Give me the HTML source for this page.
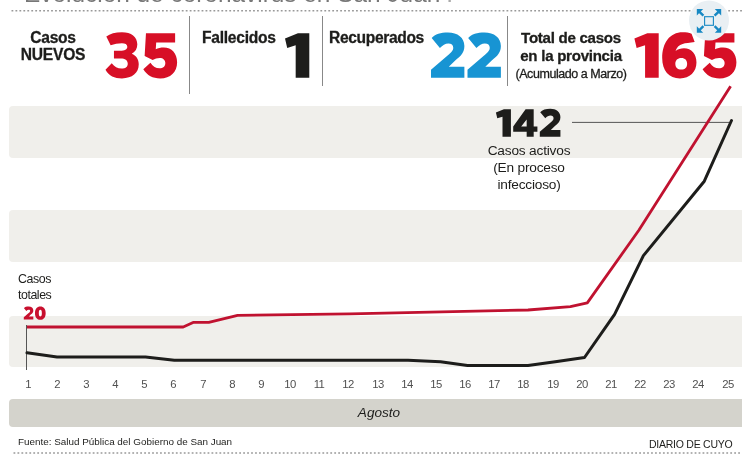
<!DOCTYPE html>
<html><head><meta charset="utf-8">
<style>
html,body{margin:0;padding:0;background:#fff;}
body{width:742px;height:455px;position:relative;overflow:hidden;font-family:"Liberation Sans",sans-serif;color:#1d1d1b;}
.abs{position:absolute;white-space:nowrap;}
.abs,.lbl,.xl{will-change:transform;}
.band{position:absolute;left:9px;width:740px;height:51.8px;background:#f0efeb;border-radius:4px;}
.lbl{position:absolute;-webkit-text-stroke:0.3px #1d1d1b;font-weight:bold;font-size:15.6px;letter-spacing:-0.25px;line-height:17px;color:#1d1d1b;text-align:center;white-space:nowrap;}
.sep{position:absolute;width:1px;background:#888;}
.xl{position:absolute;top:377.5px;width:30px;margin-left:-15px;text-align:center;font-size:11.3px;line-height:13px;color:#505050;letter-spacing:-0.6px;}
.dot{position:absolute;left:11px;width:726px;height:0;border-top:1px dotted #999;}
</style></head><body>
<div class="abs" id="title" style="left:23.5px;top:-20.4px;font-size:24.4px;line-height:28px;color:#777;">Evolución de coronavirus en San Juan<span style="margin-left:6px;color:#aaa">.</span></div>


<div class="band" style="top:106px"></div>
<div class="band" style="top:210px"></div>
<div class="band" style="top:315.5px"></div>

<div class="sep" style="left:189px;top:16px;height:78px"></div>
<div class="sep" style="left:322px;top:16px;height:70px"></div>
<div class="sep" style="left:507px;top:16px;height:70px"></div>

<div class="lbl" style="left:13px;width:80px;top:29px">Casos<br>NUEVOS</div>
<div class="lbl" style="left:202px;top:29px;text-align:left">Fallecidos</div>
<div class="lbl" style="left:329px;top:29px;text-align:left;letter-spacing:-0.35px">Recuperados</div>
<div class="lbl" style="left:511px;width:120px;top:29px;font-size:15.1px;letter-spacing:-0.28px;line-height:17.5px">Total de casos<br>en la provincia<br><span style="font-weight:normal;font-size:12.5px;letter-spacing:-0.45px">(Acumulado a Marzo)</span></div>

<svg class="abs" style="left:0;top:0" width="742" height="455" viewBox="0 0 742 455">
<path fill-rule="evenodd" d="M1.8,7.5 C10,1 22,-2.4 37,-2.4 C58,-2.4 71.5,8 71.5,25 C71.5,35 67,42 59,46 C69,50 74.7,58 74.7,70 C74.7,90 60,101.6 37,101.6 C20,101.6 8,96 0,82 L14,67.5 C20,75.5 27,79.5 36,79.5 C45,79.5 50,75.5 50,68.5 C50,61 44,57 34,57 L19,57 L19,39.5 L33,39.5 C43,39.5 49,36.5 49,30.5 C49,25 44,22.5 37,22.5 C28,22.5 20,24 11.5,27 Z" transform="translate(105.50,33.20) scale(0.4450)" fill="#d70f26"/>
<path fill-rule="evenodd" d="M6,0 L71.5,0 L71.5,21 L29,21 L28,36 C33,33.5 39,32 46,32 C64,32 76,45 76,65 C76,87 61,101.6 38,101.6 C21,101.6 9,95 0,81 L16,66.5 C22,75 28,79 36.5,79 C44.5,79 49.5,74.5 49.5,67 C49.5,60 44.5,55.5 37,55.5 C31,55.5 26,57 21,60.5 L3,51 Z" transform="translate(143.30,33.20) scale(0.4450)" fill="#d70f26"/>
<path fill-rule="evenodd" d="M29,0 L54.6,0 L54.6,100 L24,100 L24,27 L5,33 L0,12 Z" transform="translate(285.00,33.20) scale(0.4450)" fill="#1d1d1b"/>
<path fill-rule="evenodd" d="M1.5,11 C9,2 22,-1.6 38,-1.6 C60,-1.6 75,10 75,29 C75,43 68,51 55,61 L40,75.5 L75,75.5 L75,100 L0,100 L0,82 L36,51 C46,43 50,38.5 50,32.5 C50,26.5 46,23 39,23 C32,23 26,27 20,33 Z" transform="translate(431.00,33.20) scale(0.4450)" fill="#1794d3"/>
<path fill-rule="evenodd" d="M1.5,11 C9,2 22,-1.6 38,-1.6 C60,-1.6 75,10 75,29 C75,43 68,51 55,61 L40,75.5 L75,75.5 L75,100 L0,100 L0,82 L36,51 C46,43 50,38.5 50,32.5 C50,26.5 46,23 39,23 C32,23 26,27 20,33 Z" transform="translate(467.50,33.20) scale(0.4450)" fill="#1794d3"/>
<path fill-rule="evenodd" d="M29,0 L54.6,0 L54.6,100 L24,100 L24,27 L5,33 L0,12 Z" transform="translate(634.40,33.20) scale(0.4450)" fill="#d70f26"/>
<path fill-rule="evenodd" d="M66,1 L73,20 C62,22 52,22 46,24 C38,26 32,32 30,40 C35,36 42,34 49,34 C66,34 77,47 77,66 C77,87 62,101.6 40,101.6 C15,101.6 0,85 0,56 C0,22 17,-2 46,-2 C54,-2 60,-1 66,1 Z M43,55.5 C34.5,55.5 29.5,60.5 29.5,68.5 C29.5,76.5 34.5,81.5 43,81.5 C51.5,81.5 56,76.5 56,68.5 C56,60.5 51.5,55.5 43,55.5 Z" transform="translate(662.20,33.20) scale(0.4450)" fill="#d70f26"/>
<path fill-rule="evenodd" d="M6,0 L71.5,0 L71.5,21 L29,21 L28,36 C33,33.5 39,32 46,32 C64,32 76,45 76,65 C76,87 61,101.6 38,101.6 C21,101.6 9,95 0,81 L16,66.5 C22,75 28,79 36.5,79 C44.5,79 49.5,74.5 49.5,67 C49.5,60 44.5,55.5 37,55.5 C31,55.5 26,57 21,60.5 L3,51 Z" transform="translate(702.60,33.20) scale(0.4450)" fill="#d70f26"/>
<path fill-rule="evenodd" d="M29,0 L54.6,0 L54.6,100 L24,100 L24,27 L5,33 L0,12 Z" transform="translate(495.90,109.20) scale(0.2750)" fill="#1d1d1b"/>
<path fill-rule="evenodd" d="M45,0 L74.5,0 L74.5,62.5 L88,62.5 L88,82 L74.5,82 L74.5,100 L49,100 L49,82 L0,82 L0,63 Z M49,37 L49,62.5 L29,62.5 Z" transform="translate(513.20,109.20) scale(0.2750)" fill="#1d1d1b"/>
<path fill-rule="evenodd" d="M1.5,11 C9,2 22,-1.6 38,-1.6 C60,-1.6 75,10 75,29 C75,43 68,51 55,61 L40,75.5 L75,75.5 L75,100 L0,100 L0,82 L36,51 C46,43 50,38.5 50,32.5 C50,26.5 46,23 39,23 C32,23 26,27 20,33 Z" transform="translate(539.80,109.20) scale(0.2750)" fill="#1d1d1b"/>
<path fill-rule="evenodd" d="M1.5,11 C9,2 22,-1.6 38,-1.6 C60,-1.6 75,10 75,29 C75,43 68,51 55,61 L40,75.5 L75,75.5 L75,100 L0,100 L0,82 L36,51 C46,43 50,38.5 50,32.5 C50,26.5 46,23 39,23 C32,23 26,27 20,33 Z" transform="translate(23.80,306.80) scale(0.1270)" fill="#c8102e"/>
<path fill-rule="evenodd" d="M42,-2 C68,-2 84,18 84,50 C84,82 68,102 42,102 C16,102 0,82 0,50 C0,18 16,-2 42,-2 Z M42,24 C34,24 30,33 30,50 C30,67 34,76 42,76 C50,76 54,67 54,50 C54,33 50,24 42,24 Z" transform="translate(35.00,306.80) scale(0.1270)" fill="#c8102e"/>
<line x1="11.5" y1="10.75" x2="742" y2="10.75" stroke="#999" stroke-width="1.4" stroke-dasharray="1.8 2.16"/>
<line x1="13.5" y1="453" x2="742" y2="453" stroke="#999" stroke-width="1.4" stroke-dasharray="1.8 2.16"/>
<line x1="26.5" y1="325" x2="26.5" y2="370" stroke="#555" stroke-width="1"/>
<line x1="572" y1="122.4" x2="729" y2="122.4" stroke="#444" stroke-width="0.9"/>
<polyline fill="none" stroke="#c01230" stroke-width="2.8" stroke-linejoin="round" points="27,327 183.2,327 193.1,322.4 208.8,322.4 237.6,315.4 350,313.8 528,310 570.4,306.6 587.3,302.9 639,230 730.6,86.3"/>
<polyline fill="none" stroke="#1d1d1b" stroke-width="3" stroke-linejoin="round" stroke-linecap="round" points="27,352.8 57,357.1 145.5,357.1 174.3,360.2 408,360.2 440.5,361.8 467.5,365.6 528,365.6 557,361.5 584.5,357.5 614.6,314.4 643.4,255.6 704.3,181.2 731.5,120.5"/>
</svg>

<div class="abs" style="left:18px;top:272px;font-size:12.4px;line-height:15.7px;color:#1d1d1b;letter-spacing:-0.45px">Casos<br>totales</div>

<div class="abs" style="left:469px;width:120px;top:142px;font-size:13.7px;line-height:17px;text-align:center;color:#1d1d1b;letter-spacing:-0.2px">Casos activos<br>(En proceso<br>infeccioso)</div>

<div class="xl" style="left:27.5px">1</div><div class="xl" style="left:56.7px">2</div><div class="xl" style="left:85.8px">3</div><div class="xl" style="left:115.0px">4</div><div class="xl" style="left:144.2px">5</div><div class="xl" style="left:173.4px">6</div><div class="xl" style="left:202.5px">7</div><div class="xl" style="left:231.7px">8</div><div class="xl" style="left:260.9px">9</div><div class="xl" style="left:290.0px">10</div><div class="xl" style="left:319.2px">11</div><div class="xl" style="left:348.4px">12</div><div class="xl" style="left:377.5px">13</div><div class="xl" style="left:406.7px">14</div><div class="xl" style="left:435.9px">15</div><div class="xl" style="left:465.1px">16</div><div class="xl" style="left:494.2px">17</div><div class="xl" style="left:523.4px">18</div><div class="xl" style="left:552.6px">19</div><div class="xl" style="left:581.7px">20</div><div class="xl" style="left:610.9px">21</div><div class="xl" style="left:640.1px">22</div><div class="xl" style="left:669.2px">23</div><div class="xl" style="left:698.4px">24</div><div class="xl" style="left:727.6px">25</div>
<div class="abs" style="left:9px;top:399px;width:740px;height:28px;background:#d4d3cc;border-radius:4px"></div>
<div class="abs" style="left:349px;width:60px;text-align:center;top:405px;font-size:13.6px;line-height:16px;font-style:italic;color:#1d1d1b">Agosto</div>
<div class="abs" style="left:18px;top:436px;font-size:9.9px;line-height:12px;color:#1d1d1b">Fuente: Salud Pública del Gobierno de San Juan</div>
<div class="abs" style="right:9.5px;top:437.5px;font-size:10.5px;line-height:12px;letter-spacing:-0.25px;color:#1d1d1b">DIARIO DE CUYO</div>


<svg class="abs" style="left:0;top:0" width="742" height="45" viewBox="0 0 742 45">
<circle cx="709" cy="20.5" r="20" fill="#e9eff3"/>
<g fill="#1788c3" stroke="none">
<polygon points="696.8,9.1 703.2,9.1 696.8,15.5"/>
<polygon points="721.2,9.1 714.8,9.1 721.2,15.5"/>
<polygon points="696.8,32.7 703.2,32.7 696.8,26.3"/>
<polygon points="721.2,32.7 714.8,32.7 721.2,26.3"/>
</g>
<g stroke="#1788c3" stroke-width="2.4" fill="none">
<path d="M699,11.3L703.4,15.7M719,11.3L714.6,15.7M699,30.5L703.4,26.1M719,30.5L714.6,26.1"/>
</g>
<rect x="704.6" y="16.7" width="8.8" height="8.6" fill="none" stroke="#1788c3" stroke-width="1.1"/>
</svg>
</body></html>
